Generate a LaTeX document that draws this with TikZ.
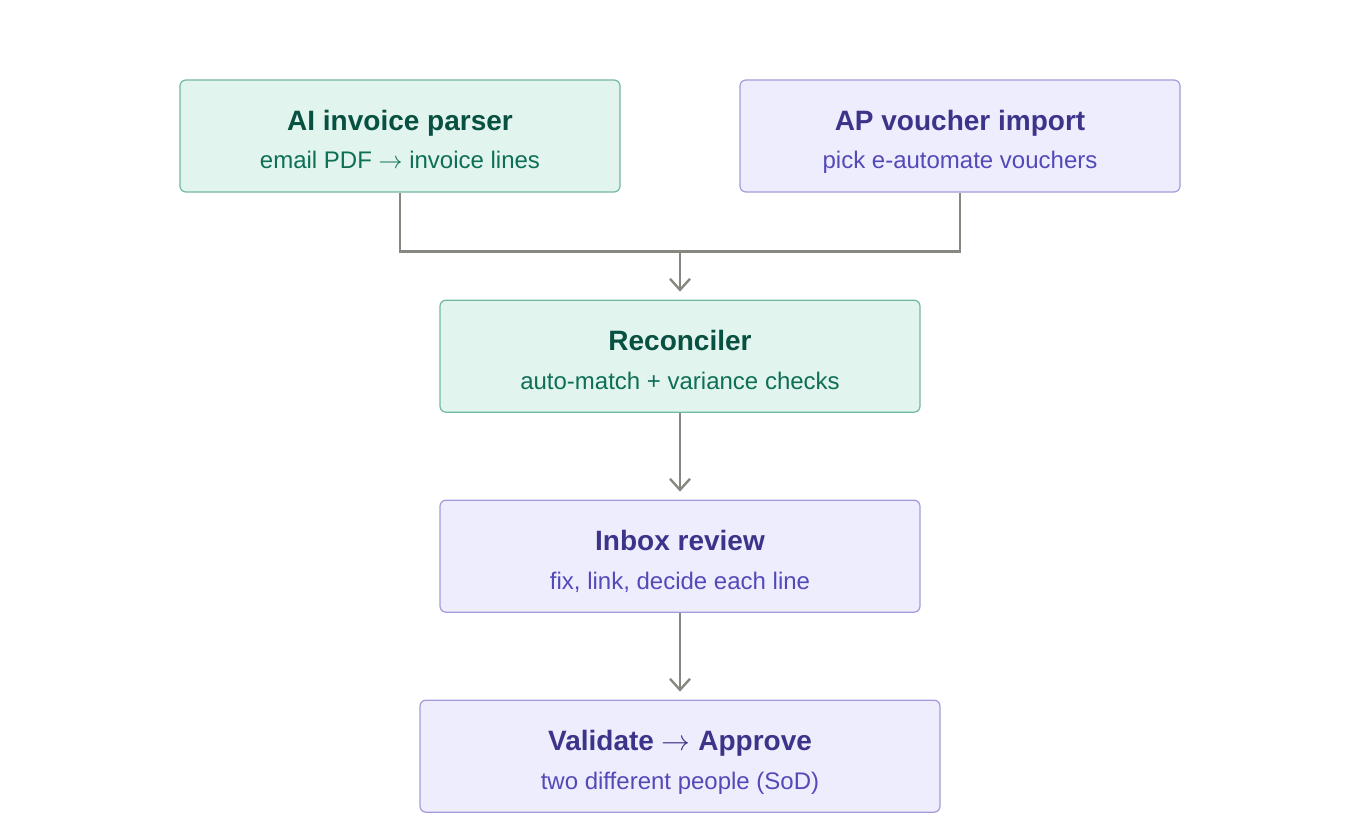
\documentclass[tikz,border=0pt]{standalone}
\usepackage{fontspec}
\setmainfont{Liberation Sans}
\usetikzlibrary{positioning, arrows.meta, calc}

\definecolor{greenfill}{HTML}{E1F5EE}
\definecolor{greenline}{HTML}{72B8A0}
\definecolor{greentitle}{HTML}{085041}
\definecolor{greentext}{HTML}{0F6E56}
\definecolor{purplefill}{HTML}{EEEDFE}
\definecolor{purpleline}{HTML}{A29BDE}
\definecolor{purpletitle}{HTML}{3C3489}
\definecolor{purpletext}{HTML}{534AB7}
\definecolor{flowgray}{HTML}{888780}

\newcommand{\boxtitle}[1]{{\fontsize{14}{17}\selectfont\bfseries\rule[-3pt]{0pt}{20.9pt}#1}}
\newcommand{\boxsub}[1]{{\fontsize{12}{14}\selectfont\strut #1}}
\newcommand{\thinarrow}{ $\rightarrow$ }

\begin{document}
\begin{tikzpicture}[
        stage/.style={draw, rectangle, rounded corners=3pt, line width=0.6pt, minimum width=220pt, minimum height=56pt, align=center, inner sep=0pt},
        greenbox/.style={stage, fill=greenfill, draw=greenline, text=greentext},
        purplebox/.style={stage, fill=purplefill, draw=purpleline, text=purpletext},
        arrow/.style={-{Straight Barb[length=5.5pt, width=10pt, line width=1.2pt]}, line width=1.25pt, draw=flowgray, shorten >=4pt}
    ]
    \useasboundingbox (0,0) rectangle (680pt,-420pt);

    \node[greenbox] (Parser) at (200pt,-68pt) {\boxtitle{\color{greentitle}AI invoice parser}\\[5.5pt]\boxsub{email PDF\thinarrow invoice lines}};
    \node[purplebox, right=59.4pt of Parser] (Voucher) {\boxtitle{\color{purpletitle}AP voucher import}\\[5.5pt]\boxsub{pick e-automate vouchers}};
    \node[greenbox, minimum width=240pt, anchor=north] (Recon) at ($(Parser.south)!0.5!(Voucher.south)+(0,-53.5pt)$) {\boxtitle{\color{greentitle}Reconciler}\\[5.5pt]\boxsub{auto-match + variance checks}};
    \node[purplebox, minimum width=240pt, below=43.4pt of Recon] (Inbox) {\boxtitle{\color{purpletitle}Inbox review}\\[5.5pt]\boxsub{fix, link, decide each line}};
    \node[purplebox, minimum width=260pt, below=43.4pt of Inbox] (Approve) {\boxtitle{\color{purpletitle}Validate\thinarrow Approve}\\[5.5pt]\boxsub{two different people (SoD)}};

    \coordinate[above=24pt of Recon] (Join);

    \draw[line width=1.25pt, flowgray] (Parser.south) |- (Join) -| (Voucher.south);
    \draw[arrow] (Join) -- (Recon);
    \draw[arrow] (Recon) -- (Inbox);
    \draw[arrow] (Inbox) -- (Approve);

\end{tikzpicture}
\end{document}
